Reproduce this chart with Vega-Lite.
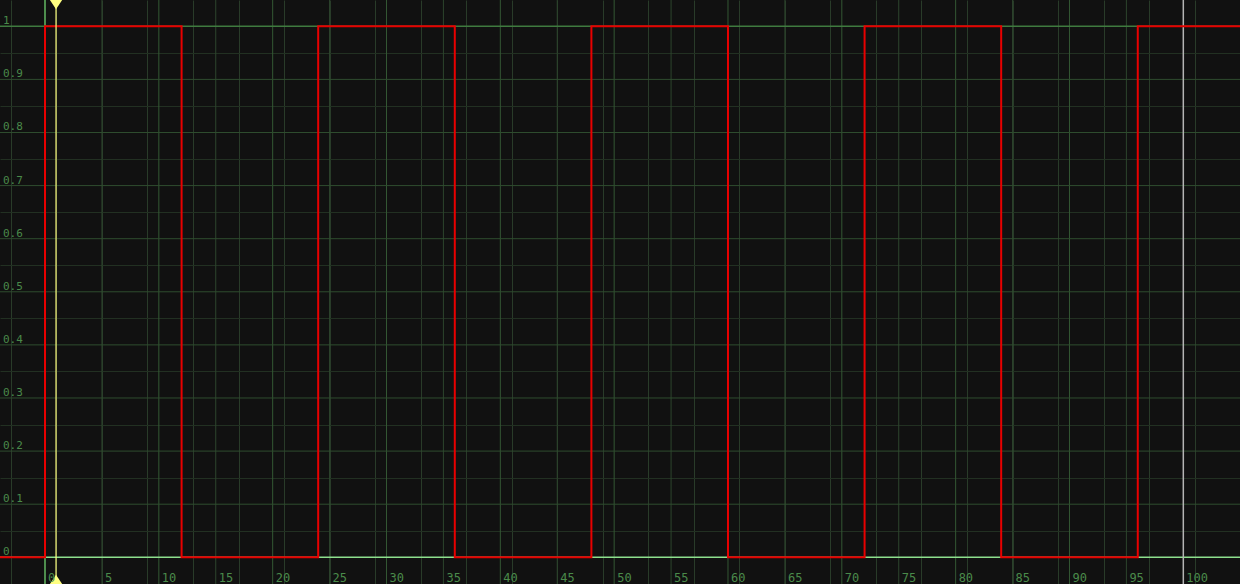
{
  "$schema": "https://vega.github.io/schema/vega-lite/v6.json",
  "autosize": {"type": "none"},
  "padding": 0,
  "width": 1240,
  "height": 584,
  "background": "#111111",
  "config": {"view": {"stroke": null}},
  "datasets": {
    "one": [{"k": 1}],
    "signal": [
      {"t": -3.953, "v": 0}, {"t": 0, "v": 1}, {"t": 12, "v": 0}, {"t": 24, "v": 1},
      {"t": 36, "v": 0}, {"t": 48, "v": 1}, {"t": 60, "v": 0}, {"t": 72, "v": 1},
      {"t": 84, "v": 0}, {"t": 96, "v": 1}, {"t": 104.98, "v": 1}
    ],
    "xmid": [{"t": 5}, {"t": 15}, {"t": 25}, {"t": 35}, {"t": 45}, {"t": 55}, {"t": 65}, {"t": 75}, {"t": 85}, {"t": 95}],
    "xmaj": [{"t": 10}, {"t": 20}, {"t": 30}, {"t": 40}, {"t": 50}, {"t": 60}, {"t": 70}, {"t": 80}, {"t": 90}],
    "ymaj": [{"v": 0.1}, {"v": 0.2}, {"v": 0.3}, {"v": 0.4}, {"v": 0.5}, {"v": 0.6}, {"v": 0.7}, {"v": 0.8}, {"v": 0.9}],
    "xlabels": [
      {"t": 0, "label": "0"}, {"t": 5, "label": "5"}, {"t": 10, "label": "10"}, {"t": 15, "label": "15"},
      {"t": 20, "label": "20"}, {"t": 25, "label": "25"}, {"t": 30, "label": "30"}, {"t": 35, "label": "35"},
      {"t": 40, "label": "40"}, {"t": 45, "label": "45"}, {"t": 50, "label": "50"}, {"t": 55, "label": "55"},
      {"t": 60, "label": "60"}, {"t": 65, "label": "65"}, {"t": 70, "label": "70"}, {"t": 75, "label": "75"},
      {"t": 80, "label": "80"}, {"t": 85, "label": "85"}, {"t": 90, "label": "90"}, {"t": 95, "label": "95"},
      {"t": 100, "label": "100"}
    ],
    "ylabels": [
      {"v": 0, "label": "0"}, {"v": 0.1, "label": "0.1"}, {"v": 0.2, "label": "0.2"}, {"v": 0.3, "label": "0.3"},
      {"v": 0.4, "label": "0.4"}, {"v": 0.5, "label": "0.5"}, {"v": 0.6, "label": "0.6"}, {"v": 0.7, "label": "0.7"},
      {"v": 0.8, "label": "0.8"}, {"v": 0.9, "label": "0.9"}, {"v": 1, "label": "1"}
    ]
  },
  "layer": [
    {
      "data": {"name": "signal"},
      "mark": {"type": "line", "interpolate": "step-after", "color": "#e80000", "strokeWidth": 2, "opacity": 0},
      "encoding": {
        "x": {"field": "t", "type": "quantitative",
          "scale": {"domain": [-3.953, 104.98], "nice": false, "zero": false},
          "axis": {"title": null, "labels": false, "ticks": false, "domain": false, "grid": true,
            "gridWidth": 1, "gridColor": "#293b29",
            "values": [-3,-2,-1,0,1,2,3,4,5,6,7,8,9,10,11,12,13,14,15,16,17,18,19,20,21,22,23,24,25,26,27,28,29,30,31,32,33,34,35,36,37,38,39,40,41,42,43,44,45,46,47,48,49,50,51,52,53,54,55,56,57,58,59,60,61,62,63,64,65,66,67,68,69,70,71,72,73,74,75,76,77,78,79,80,81,82,83,84,85,86,87,88,89,90,91,92,93,94,95,96,97,98,99,100,101,102,103,104]
          }},
        "y": {"field": "v", "type": "quantitative",
          "scale": {"domain": [-0.0503, 1.0495], "nice": false, "zero": false},
          "axis": {"title": null, "labels": false, "ticks": false, "domain": false, "grid": true,
            "gridWidth": 1, "gridColor": "#223022",
            "values": [0.05,0.15,0.25,0.35,0.45,0.55,0.65,0.75,0.85,0.95]
          }}
      }
    },
    {
      "data": {"name": "xmid"},
      "mark": {"type": "rule", "color": "#2d452d", "strokeWidth": 1},
      "encoding": {"x": {"field": "t", "type": "quantitative", "scale": {"domain": [-3.953, 104.98], "nice": false, "zero": false}}}
    },
    {
      "data": {"name": "xmaj"},
      "mark": {"type": "rule", "color": "#345834", "strokeWidth": 1},
      "encoding": {"x": {"field": "t", "type": "quantitative", "scale": {"domain": [-3.953, 104.98], "nice": false, "zero": false}}}
    },
    {
      "data": {"name": "ymaj"},
      "mark": {"type": "rule", "color": "#2f4d2f", "strokeWidth": 1},
      "encoding": {"y": {"field": "v", "type": "quantitative", "scale": {"domain": [-0.0503, 1.0495], "nice": false, "zero": false}}}
    },
    {
      "data": {"name": "one"},
      "mark": {"type": "rule", "color": "#3f7a3f", "strokeWidth": 1.5},
      "encoding": {"y": {"datum": 1, "type": "quantitative", "scale": {"domain": [-0.0503, 1.0495], "nice": false, "zero": false}}}
    },
    {
      "data": {"name": "one"},
      "mark": {"type": "rule", "color": "#8ee08e", "strokeWidth": 1.5},
      "encoding": {"y": {"datum": 0, "type": "quantitative", "scale": {"domain": [-0.0503, 1.0495], "nice": false, "zero": false}}}
    },
    {
      "data": {"name": "one"},
      "mark": {"type": "rule", "color": "#4e8e4e", "strokeWidth": 2},
      "encoding": {"x": {"datum": 0, "type": "quantitative", "scale": {"domain": [-3.953, 104.98], "nice": false, "zero": false}}}
    },
    {
      "data": {"name": "one"},
      "mark": {"type": "rule", "color": "#b4b4b4", "strokeWidth": 1.5},
      "encoding": {"x": {"datum": 100, "type": "quantitative", "scale": {"domain": [-3.953, 104.98], "nice": false, "zero": false}}}
    },
    {
      "data": {"name": "signal"},
      "mark": {"type": "line", "interpolate": "step-after", "color": "#e80000", "strokeWidth": 2},
      "encoding": {
        "x": {"field": "t", "type": "quantitative", "scale": {"domain": [-3.953, 104.98], "nice": false, "zero": false}},
        "y": {"field": "v", "type": "quantitative", "scale": {"domain": [-0.0503, 1.0495], "nice": false, "zero": false}}
      }
    },
    {
      "data": {"name": "one"},
      "mark": {"type": "rule", "color": "#ffff80", "strokeWidth": 1.2},
      "encoding": {"x": {"datum": 0.97, "type": "quantitative", "scale": {"domain": [-3.953, 104.98], "nice": false, "zero": false}}}
    },
    {
      "data": {"name": "one"},
      "mark": {"type": "point", "filled": true, "opacity": 1, "color": "#ffff80", "shape": "M-1,0L1,0L0,1.5Z", "size": 150},
      "encoding": {
        "x": {"datum": 0.97, "type": "quantitative", "scale": {"domain": [-3.953, 104.98], "nice": false, "zero": false}},
        "y": {"datum": 1.0495, "type": "quantitative", "scale": {"domain": [-0.0503, 1.0495], "nice": false, "zero": false}}
      }
    },
    {
      "data": {"name": "one"},
      "mark": {"type": "point", "filled": true, "opacity": 1, "color": "#ffff80", "shape": "M-1,0L1,0L0,-1.5Z", "size": 150},
      "encoding": {
        "x": {"datum": 0.97, "type": "quantitative", "scale": {"domain": [-3.953, 104.98], "nice": false, "zero": false}},
        "y": {"datum": -0.0503, "type": "quantitative", "scale": {"domain": [-0.0503, 1.0495], "nice": false, "zero": false}}
      }
    },
    {
      "data": {"name": "xlabels"},
      "mark": {"type": "text", "align": "left", "baseline": "alphabetic", "dx": 3, "dy": -2, "font": "DejaVu Sans Mono", "fontSize": 12, "color": "#4a8a4a"},
      "encoding": {
        "x": {"field": "t", "type": "quantitative", "scale": {"domain": [-3.953, 104.98], "nice": false, "zero": false}},
        "y": {"datum": -0.0503, "type": "quantitative", "scale": {"domain": [-0.0503, 1.0495], "nice": false, "zero": false}},
        "text": {"field": "label", "type": "nominal"}
      }
    },
    {
      "data": {"name": "ylabels"},
      "mark": {"type": "text", "align": "left", "baseline": "alphabetic", "dx": 3, "dy": -2, "font": "DejaVu Sans Mono", "fontSize": 11, "color": "#4a8a4a"},
      "encoding": {
        "x": {"datum": -3.953, "type": "quantitative", "scale": {"domain": [-3.953, 104.98], "nice": false, "zero": false}},
        "y": {"field": "v", "type": "quantitative", "scale": {"domain": [-0.0503, 1.0495], "nice": false, "zero": false}},
        "text": {"field": "label", "type": "nominal"}
      }
    }
  ]
}
